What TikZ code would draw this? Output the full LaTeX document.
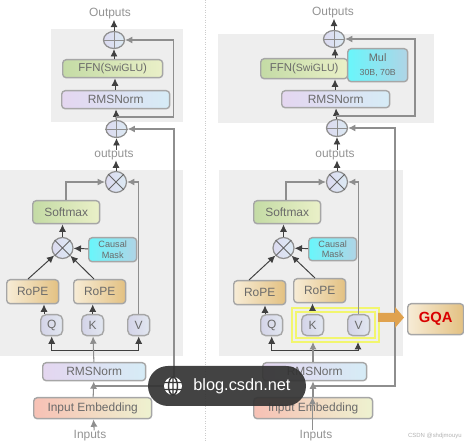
\documentclass[tikz,border=0pt]{standalone}
\usepackage{fontspec}
\setmainfont{Liberation Sans}
\usetikzlibrary{arrows.meta,shapes.geometric}

\definecolor{txtgray}{HTML}{6A6A6A}
\definecolor{boxline}{HTML}{A6A6A6}
\definecolor{panelgray}{HTML}{EEEEEE}
\definecolor{linegray}{HTML}{8E8E8E}
\definecolor{darkline}{HTML}{404040}
\definecolor{markgray}{HTML}{8E8E8E}
\definecolor{hiyellow}{HTML}{F2F66E}
\definecolor{gqaarrow}{HTML}{E0A24E}
\tikzset{
    panel/.style={fill=panelgray,draw=none},
    blk/.style={draw=boxline,line width=0.8pt,rounded corners=2pt,inner sep=0pt,text=txtgray,font=\fontsize{6.8}{8}\selectfont,anchor=north west},
    rope/.style={blk,left color={rgb,255:red,247;green,236;blue,214},right color={rgb,255:red,227;green,193;blue,130}},
    letter/.style={blk,rounded corners=3pt,left color={rgb,255:red,212;green,212;blue,232},right color={rgb,255:red,226;green,231;blue,240},minimum width=0.44cm,minimum height=0.42cm},
    rms/.style={blk,left color={rgb,255:red,228;green,214;blue,240},right color={rgb,255:red,214;green,236;blue,246}},
    ffn/.style={blk,left color={rgb,255:red,196;green,219;blue,165},right color={rgb,255:red,234;green,240;blue,200}},
    maskbox/.style={blk,left color={rgb,255:red,105;green,246;blue,251},right color={rgb,255:red,176;green,212;blue,230},align=center},
    embed/.style={blk,left color={rgb,255:red,247;green,193;blue,181},right color={rgb,255:red,238;green,242;blue,208}},
    opnode/.style={circle,draw=markgray,line width=0.7pt,left color={rgb,255:red,220;green,218;blue,240},right color={rgb,255:red,220;green,234;blue,243},minimum size=0.42cm,inner sep=0pt},
    plusnode/.style={opnode,ellipse,minimum width=0.42cm,minimum height=0.34cm},
    word/.style={text=gray!85,font=\fontsize{6.8}{8}\selectfont,inner sep=0pt},
    arr/.style={-{Latex[length=4.2pt,width=4pt]},draw=darkline,line width=0.55pt},
    arrg/.style={-{Latex[length=4.2pt,width=4pt]},draw=linegray,line width=0.6pt},
    small/.style={font=\fontsize{5.2}{5.8}\selectfont},
    signline/.style={line width=0.4pt,draw=markgray},
    crossline/.style={line width=0.6pt,draw=darkline!80}
}

\begin{document}
\begin{tikzpicture}[x=0.02cm,y=-0.02cm]
    \useasboundingbox (0,0) rectangle (464,442);

    % grey panels
    \fill[panel] (51,29) rectangle (183,122);
    \fill[panel] (0,170) rectangle (183,356);
    \fill[panel] (218,34) rectangle (434,123);
    \fill[panel] (219,170) rectangle (403,356);
    \draw[densely dotted,gray!40] (205,0) -- (205,442);

    % left model
    \node[word] (lout) at (110,14) {Outputs};
    \node[plusnode] (lplusa) at (114,40) {};
    \node[ffn,minimum width=2cm,minimum height=0.36cm] (lffn) at (62,59) {\fontsize{6.5}{8}\selectfont FFN({\fontsize{6}{7}\selectfont SwiGLU})};
    \node[rms,minimum width=2.16cm,minimum height=0.36cm] (lrmsa) at (61,90) {RMSNorm};
    \node[plusnode] (lplusb) at (116.5,129) {};
    \node[word] (loutb) at (114,155) {outputs};
    \node[opnode] (ltimesa) at (116,182) {};
    \node[ffn,minimum width=1.34cm,minimum height=0.46cm] (lsoft) at (32,200) {Softmax};
    \node[opnode] (ltimesb) at (62.5,248) {};
    \node[maskbox,small,minimum width=0.96cm,minimum height=0.48cm] (lmask) at (88,237) {Causal\\Mask};
    \node[rope,minimum width=1.04cm,minimum height=0.48cm] (lropea) at (6,279) {RoPE};
    \node[rope,minimum width=1.04cm,minimum height=0.48cm] (lropeb) at (73,279) {RoPE};
    \node[letter] (lq) at (40,314) {Q};
    \node[letter] (lk) at (81,314) {K};
    \node[letter] (lv) at (127,314) {V};
    \node[rms,minimum width=2.06cm,minimum height=0.36cm] (lrmsb) at (42,362) {RMSNorm};
    \node[embed,minimum width=2.36cm,minimum height=0.42cm] (lemb) at (33,397) {Input Embedding};
    \node[word] (lin) at (90,436) {Inputs};

    \coordinate (ljoin) at (92.5,386);
    \coordinate (lbus) at (92.5,350);
    \coordinate (lskip) at (116,117);

    \draw[arr] (lplusa) -- (lplusa |- lout.south);
    \draw[arr] (lffn.north -| lplusa) -- (lplusa);
    \draw[arr] (lrmsa.north -| 115,0) -- (lffn.south -| 115,0);
    \draw[arr] (lplusb) -- (lskip |- lrmsa.south);
    \draw[arrg] (lskip) -- (173.5,117) -- (173.5,40) -- (lplusa);
    \draw[arr] (lplusb |- loutb.north) -- (lplusb);
    \draw[arr] (ltimesa) -- (ltimesa |- loutb.south);
    \draw[arrg] (66,200) -- (66,182) -- (ltimesa);
    \draw[arrg] (lv.north) -- (lv.north |- ltimesa) -- (ltimesa);
    \draw[arrg] (ljoin) -- (174,386) -- (174,129) -- (lplusb);
    \draw[arr] (ltimesb) -- (ltimesb |- lsoft.south);
    \draw[arr] (lmask) -- (ltimesb);
    \draw[arr] (lropea.north -| 28,0) -- (ltimesb);
    \draw[arr] (lropeb.north -| 94,0) -- (ltimesb);
    \draw[arr] (lq.north -| 44,0) -- (lropea.south -| 44,0);
    \draw[arr] (lk) -- (lropeb.south -| lk);
    \draw[arr] (lbus) -| (lq);
    \draw[arr] (lbus) -| (lv);
    \draw[arrg] (lrmsb) -- (lk);
    \draw[arrg] (lemb) -- (lrmsb);
    \draw[arrg] (lin.north -| lrmsb) -- (lemb);

    \draw[signline] (lplusa.west) -- (lplusa.east) (lplusa.north) -- (lplusa.south);
    \draw[signline] (lplusb.west) -- (lplusb.east) (lplusb.north) -- (lplusb.south);
    \draw[crossline] (ltimesa.north west) -- (ltimesa.south east) (ltimesa.north east) -- (ltimesa.south west);
    \draw[crossline] (ltimesb.north west) -- (ltimesb.south east) (ltimesb.north east) -- (ltimesb.south west);

    % right model
    \node[word] (rout) at (333,13) {Outputs};
    \node[plusnode] (rplusa) at (334,39) {};
    \node[ffn,minimum width=1.74cm,minimum height=0.4cm] (rffn) at (260,58) {\fontsize{6.5}{8}\selectfont FFN({\fontsize{6}{7}\selectfont SwiGLU})};
    \node[maskbox,minimum width=1.2cm,minimum height=0.66cm] (rmul) at (347,48) {\fontsize{6.2}{7.4}\selectfont Mul\\[-0.5pt]\fontsize{5}{6}\selectfont 30B, 70B};
    \node[rms,minimum width=2.16cm,minimum height=0.34cm] (rrmsa) at (281,90) {RMSNorm};
    \node[plusnode] (rplusb) at (337,128) {};
    \node[word] (routb) at (335,155) {outputs};
    \node[opnode] (rtimesa) at (337,182) {};
    \node[ffn,minimum width=1.34cm,minimum height=0.46cm] (rsoft) at (253,200) {Softmax};
    \node[opnode] (rtimesb) at (283.5,248) {};
    \node[maskbox,small,minimum width=0.96cm,minimum height=0.46cm] (rmask) at (308,237) {Causal\\Mask};
    \node[rope,minimum width=1.04cm,minimum height=0.48cm] (rropea) at (233,280) {RoPE};
    \node[rope,minimum width=1.04cm,minimum height=0.48cm] (rropeb) at (293,278) {RoPE};
    \draw[hiyellow,line width=1.5pt] (292,308) rectangle (379,342);
    \draw[hiyellow,line width=1pt] (296,312) rectangle (375,338);
    \node[letter] (rq) at (260,314) {Q};
    \node[letter] (rk) at (301,314) {K};
    \node[letter] (rv) at (347,314) {V};
    \node[rms,minimum width=2.08cm,minimum height=0.36cm] (rrmsb) at (262,362) {RMSNorm};
    \node[embed,minimum width=2.38cm,minimum height=0.42cm] (remb) at (253,397) {Input Embedding};
    \node[word] (rin) at (316,436) {Inputs};
    \node[rope,minimum width=1.12cm,minimum height=0.62cm,text=red!85!black,font=\bfseries\fontsize{8.4}{10}\selectfont] (rgqa) at (407,303) {GQA};
    \node[text=gray!60,inner sep=0pt,font=\fontsize{3.4}{4}\selectfont,anchor=east] (rcsdn) at (462,436) {CSDN @shdjmouyu};

    \coordinate (rjoin) at (313,386);
    \coordinate (rbus) at (313,350);
    \coordinate (rskip) at (336,116);

    \draw[arr] (rplusa) -- (rplusa |- rout.south);
    \draw[arr] (rffn.north -| 335,0) -- (rplusa.south -| 335,0);
    \draw[arr] (rrmsa.north -| 335,0) -- (rffn.south -| 335,0);
    \draw[arr] (rplusb) -- (rskip |- rrmsa.south);
    \draw[arrg] (rskip) -- (415,116) -- (415,39) -- (rplusa);
    \draw[arr] (rplusb |- routb.north) -- (rplusb);
    \draw[arr] (rtimesa) -- (rtimesa |- routb.south);
    \draw[arrg] (286,200) -- (286,182) -- (rtimesa);
    \draw[arrg] (rv.north) -- (rv.north |- rtimesa) -- (rtimesa);
    \draw[arrg] (rjoin) -- (395,386) -- (395,128) -- (rplusb);
    \draw[arr] (rtimesb) -- (rtimesb |- rsoft.south);
    \draw[arr] (rmask) -- (rtimesb);
    \draw[arr] (rropea.north -| 249,0) -- (rtimesb);
    \draw[arr] (rropeb.north -| 315,0) -- (rtimesb);
    \draw[arr] (rq.north -| 265,0) -- (rropea.south -| 265,0);
    \draw[arr] (rk.north -| 312.5,0) ++(0,-6) -- (rropeb.south -| 312.5,0);
    \draw[arr] (rbus) -| (rq);
    \draw[arr] (rbus) -| (358,342);
    \draw[arrg] (rrmsb.north -| rbus) -- (313,342);
    \draw[arrg] (remb.north -| rbus) -- (rrmsb.south -| rbus);
    \draw[arrg] (rin.north -| 312.5,0) -- (remb.north -| 312.5,0);
    % orange arrow to GQA
    \fill[gqaarrow] (378,313) -- (395,313) -- (395,307) -- (404,317.5) -- (395,328) -- (395,322) -- (378,322) -- cycle;

    \draw[signline] (rplusa.west) -- (rplusa.east) (rplusa.north) -- (rplusa.south);
    \draw[signline] (rplusb.west) -- (rplusb.east) (rplusb.north) -- (rplusb.south);
    \draw[crossline] (rtimesa.north west) -- (rtimesa.south east) (rtimesa.north east) -- (rtimesa.south west);
    \draw[crossline] (rtimesb.north west) -- (rtimesb.south east) (rtimesb.north east) -- (rtimesb.south west);

    % pill
    \fill[black!80,opacity=0.92,rounded corners=0.4cm] (148,366) rectangle (306,406);
    \fill[white] (173,386) circle (9);
    \draw[black!78,line width=0.8pt] (173,377) -- (173,395) (164,382.5) -- (182,382.5) (164,389.5) -- (182,389.5) (173,386) ellipse (4.5 and 9);
    \node[text=white,font=\fontsize{9.3}{11}\selectfont,inner sep=0pt,anchor=west] (pill) at (193,386) {blog.csdn.net};
\end{tikzpicture}
\end{document}
